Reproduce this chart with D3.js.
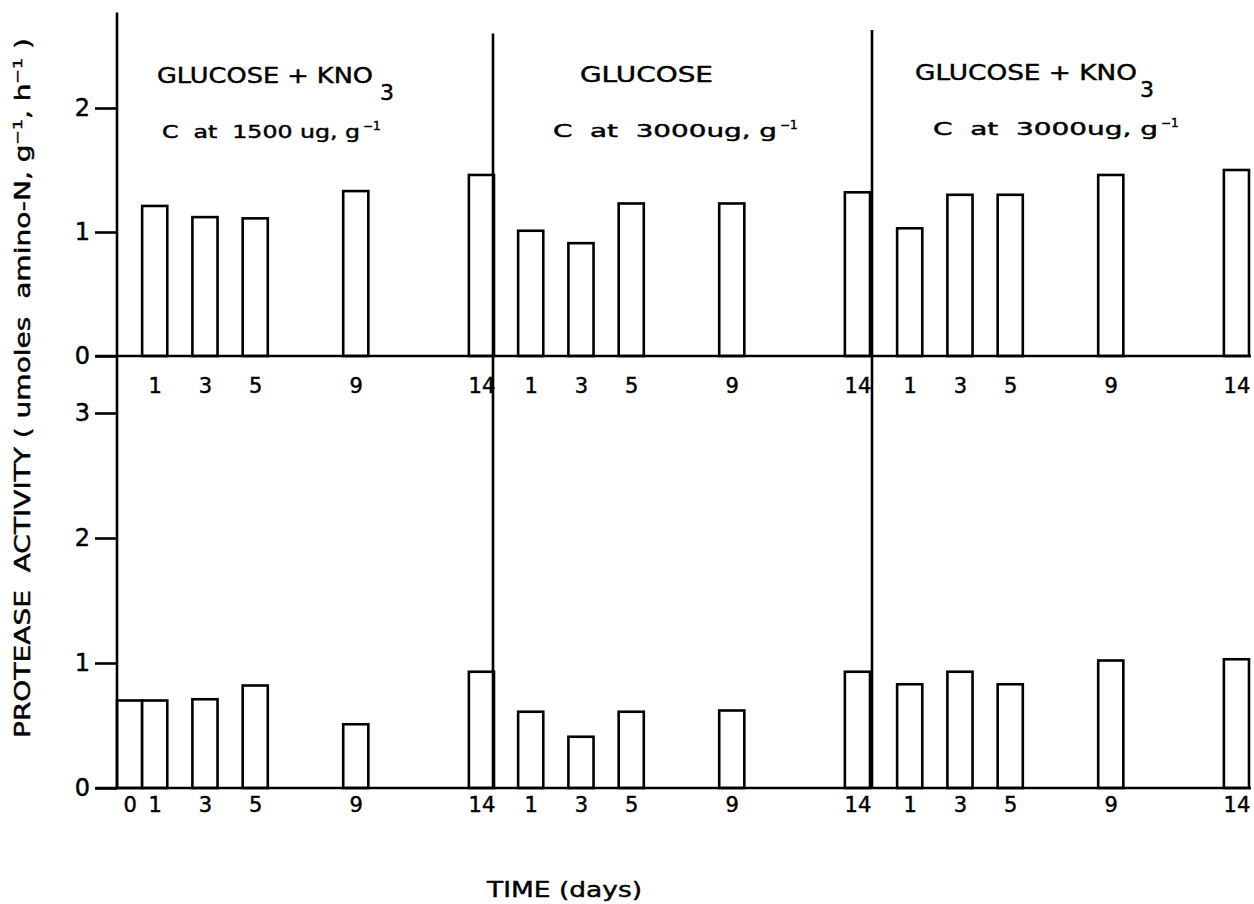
<!DOCTYPE html>
<html>
<head>
<meta charset="utf-8">
<script src="https://cdn.jsdelivr.net/npm/d3@7"></script>
<style>
  html, body { margin: 0; padding: 0; background: #fff; }
  svg { display: block; }
  text { font-family: "DejaVu Sans", sans-serif; fill: #000; white-space: pre; stroke: #000; stroke-width: 0.45px; }
</style>
</head>
<body>
<svg id="chart" width="1254" height="904"></svg>
<script>
// ---------------- DATA ----------------
const panelTitles = ["GLUCOSE + KNO", "GLUCOSE", "GLUCOSE + KNO"];
const titleSubscripts = ["3", "", "3"];
const panelSubtitles = ["C  at  1500 ug, g", "C  at  3000ug, g", "C  at  3000ug, g"];
const subtitleSuperscript = "−1";

const topDays = [[1, 3, 5, 9, 14], [1, 3, 5, 9, 14], [1, 3, 5, 9, 14]];
const topValues = [
  [1.21, 1.12, 1.11, 1.33, 1.46],
  [1.01, 0.91, 1.23, 1.23, 1.32],
  [1.03, 1.30, 1.30, 1.46, 1.50]
];
const bottomDays = [[0, 1, 3, 5, 9, 14], [1, 3, 5, 9, 14], [1, 3, 5, 9, 14]];
const bottomValues = [
  [0.70, 0.70, 0.71, 0.82, 0.51, 0.93],
  [0.61, 0.41, 0.61, 0.62, 0.93],
  [0.83, 0.93, 0.83, 1.02, 1.03]
];
const topYTicks = [0, 1, 2];
const bottomYTicks = [0, 1, 2, 3];
const yLabelParts = [
  { t: "PROTEASE  ACTIVITY ( umoles  amino-N, g", sup: false },
  { t: "−1", sup: true },
  { t: ", h", sup: false },
  { t: "−1", sup: true },
  { t: " )", sup: false }
];
const xLabel = "TIME (days)";

// ---------------- LAYOUT ----------------
const svg = d3.select("#chart");
const panelLefts = [117, 493, 872];
const panelWidth = 377;
const dividerTopValue = [2.77, 2.6, 2.63];
const titleLayout = [
  { x: 157, y: 83, w: 216, sx: 380, sy: 100 },
  { x: 580, y: 82, w: 133 },
  { x: 915, y: 80, w: 222, sx: 1140, sy: 97 }
];
const subLayout = [
  { x: 162, y: 138, w: 198 },
  { x: 553, y: 137, w: 224 },
  { x: 933, y: 135, w: 225 }
];

const yTop = d3.scaleLinear().domain([0, 1]).range([356, 232]);
const yBot = d3.scaleLinear().domain([0, 1]).range([788, 663]);

const xScales = panelLefts.map(l =>
  d3.scaleLinear().domain([-0.5, 14.5]).range([l, l + panelWidth]));

const lw = 2.6;

// bars
function drawBars(days, vals, x, y, cls) {
  svg.append("g").attr("class", cls)
    .selectAll("rect")
    .data(days.map((d, i) => ({ d, v: vals[i] })))
    .join("rect")
    .attr("x", p => x(p.d - 0.5))
    .attr("width", p => x(p.d + 0.5) - x(p.d - 0.5))
    .attr("y", p => y(p.v))
    .attr("height", p => y(0) - y(p.v))
    .attr("fill", "#fff")
    .attr("stroke", "#000")
    .attr("stroke-width", lw);
}

panelLefts.forEach((l, i) => {
  drawBars(topDays[i], topValues[i], xScales[i], yTop, "top-bars");
  drawBars(bottomDays[i], bottomValues[i], xScales[i], yBot, "bot-bars");
});

// baselines
[yTop, yBot].forEach(y => {
  svg.append("line")
    .attr("x1", 95).attr("x2", 1251)
    .attr("y1", y(0)).attr("y2", y(0))
    .attr("stroke", "#000").attr("stroke-width", lw);
});

// vertical axis / dividers
panelLefts.forEach((l, i) => {
  svg.append("line")
    .attr("x1", l).attr("x2", l)
    .attr("y1", yTop(dividerTopValue[i]))
    .attr("y2", yBot(0))
    .attr("stroke", "#000").attr("stroke-width", lw);
});

// y axes
function yAxis(scale, ticks) {
  const g = svg.append("g")
    .attr("transform", `translate(${panelLefts[0]},0)`)
    .call(d3.axisLeft(scale).tickValues(ticks).tickSize(22).tickPadding(5)
      .tickFormat(d3.format("d")));
  g.select(".domain").remove();
  g.selectAll(".tick line").attr("stroke", "#000").attr("stroke-width", lw);
  g.selectAll(".tick text")
    .attr("font-size", 24)
    .attr("font-family", "DejaVu Sans, sans-serif")
    .attr("fill", "#000");
}
yAxis(yTop, topYTicks);
yAxis(yBot, bottomYTicks);

// x axes (labels only)
function xAxis(scale, days, baseY, off) {
  const g = svg.append("g")
    .attr("transform", `translate(0,${baseY})`)
    .call(d3.axisBottom(scale).tickValues(days).tickSize(0)
      .tickFormat(d3.format("d")));
  g.select(".domain").remove();
  g.selectAll(".tick line").remove();
  g.selectAll(".tick text")
    .attr("y", off).attr("dy", null)
    .attr("font-size", 21)
    .attr("font-family", "DejaVu Sans, sans-serif")
    .attr("fill", "#000");
}
panelLefts.forEach((l, i) => {
  xAxis(xScales[i], topDays[i], yTop(0), 37);
  xAxis(xScales[i], bottomDays[i], yBot(0), 24);
});

// panel titles
panelTitles.forEach((t, i) => {
  const L = titleLayout[i];
  svg.append("text")
    .attr("x", L.x).attr("y", L.y)
    .attr("font-size", 22)
    .attr("textLength", L.w).attr("lengthAdjust", "spacingAndGlyphs")
    .text(t);
  if (titleSubscripts[i]) {
    svg.append("text")
      .attr("x", L.sx).attr("y", L.sy)
      .attr("font-size", 22)
      .text(titleSubscripts[i]);
  }
  const S = subLayout[i];
  svg.append("text")
    .attr("x", S.x).attr("y", S.y)
    .attr("font-size", 18)
    .attr("textLength", S.w).attr("lengthAdjust", "spacingAndGlyphs")
    .text(panelSubtitles[i]);
  svg.append("text")
    .attr("x", S.x + S.w + 3).attr("y", S.y - 8)
    .attr("font-size", 12)
    .text(subtitleSuperscript);
});

// y label (rotated)
const yl = svg.append("text")
  .attr("transform", "translate(30,388) rotate(-90)")
  .attr("text-anchor", "middle")
  .attr("font-size", 21)
  .attr("textLength", 700).attr("lengthAdjust", "spacingAndGlyphs");
yl.selectAll("tspan")
  .data(yLabelParts)
  .join("tspan")
  .attr("font-size", d => d.sup ? 13 : 21)
  .attr("dy", (d, i) => {
    if (d.sup) return -8;
    if (i > 0 && yLabelParts[i - 1].sup) return 8;
    return 0;
  })
  .text(d => d.t);

// x label
svg.append("text")
  .attr("x", 487).attr("y", 897)
  .attr("font-size", 22)
  .attr("textLength", 155).attr("lengthAdjust", "spacingAndGlyphs")
  .text(xLabel);
</script>
</body>
</html>
